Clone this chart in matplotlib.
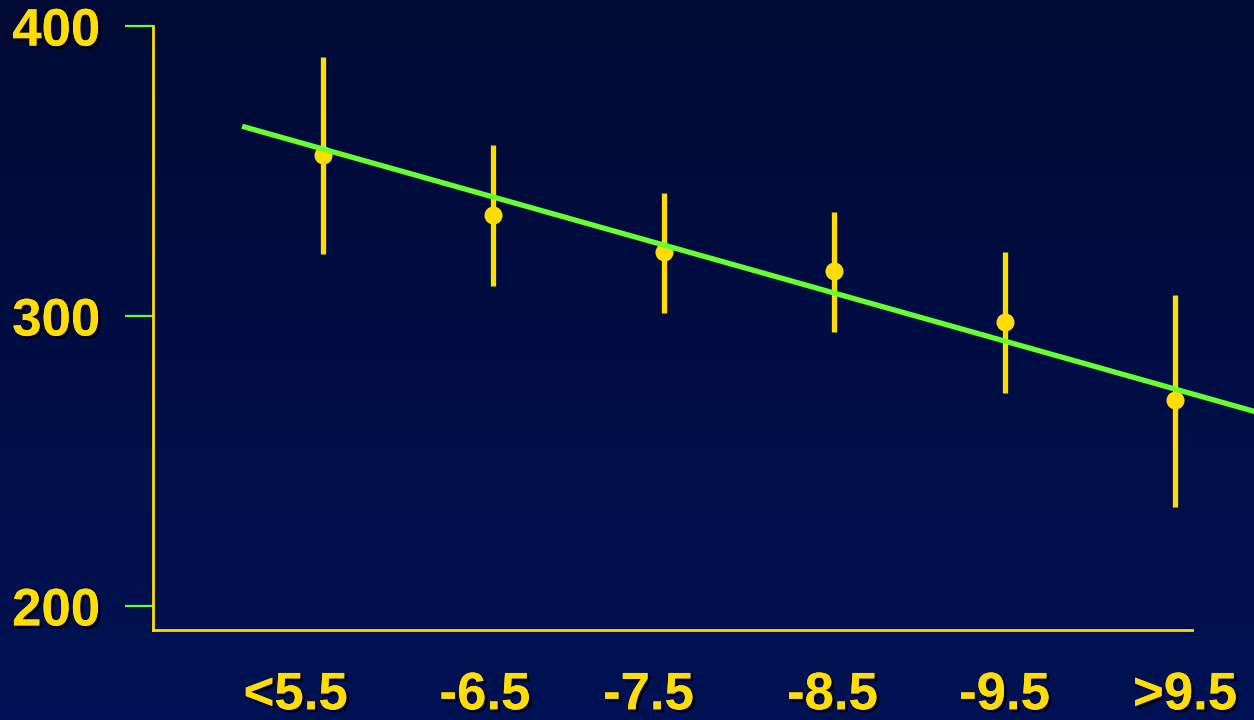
import numpy as np
import matplotlib
matplotlib.use("Agg")
import matplotlib.pyplot as plt
import matplotlib.patheffects as pe
from matplotlib.colors import LinearSegmentedColormap

# group means with their upper/lower limits
groups = ["<5.5", "-6.5", "-7.5", "-8.5", "-9.5", ">9.5"]
means = [355.5, 334.8, 322.1, 315.5, 297.9, 271.0]
upper = [389.3, 359.0, 342.4, 335.9, 322.1, 307.2]
lower = [321.4, 310.3, 301.0, 294.5, 273.4, 234.1]

# regression line end points
trend_x = [-0.46, 5.46]
trend_y = [365.2, 267.2]

# where the group labels sit along the x axis
label_pos = [-0.16, 0.95, 1.91, 2.99, 4.0, 5.06]
yticks = [200, 300, 400]

YELLOW = "#FFDD00"
GREEN = "#66FF33"

fig = plt.figure(figsize=(12.54, 7.2), dpi=100)

# dark blue gradient backdrop
bg = fig.add_axes([0, 0, 1, 1])
grad = np.linspace(0, 1, 256).reshape(-1, 1)
cmap = LinearSegmentedColormap.from_list("bg", ["#000a34", "#001254"])
bg.imshow(grad, aspect="auto", cmap=cmap, extent=[0, 1, 0, 1])
bg.set_axis_off()

W, H = 1254, 720
ax = fig.add_axes([153 / W, (H - 630) / H, 1 - 153 / W, 630 / H])
ax.patch.set_alpha(0)

x = np.arange(len(groups))
ax.vlines(x, lower, upper, color=YELLOW, lw=3.8, zorder=3)
ax.plot(x, means, "o", color=YELLOW, ms=12, zorder=4)
ax.plot(trend_x, trend_y, color=GREEN, lw=3.8, zorder=5, clip_on=True)

ax.set_xlim(-0.998, 5.464)
ax.set_ylim(191.7, 409.0)

for s in ["top", "right"]:
    ax.spines[s].set_visible(False)
for s in ["left", "bottom"]:
    ax.spines[s].set_color(YELLOW)
    ax.spines[s].set_linewidth(2)
ax.spines["left"].set_bounds(191.7, 400)
ax.spines["bottom"].set_bounds(-0.998, 5.10)

shadow = [pe.withSimplePatchShadow(offset=(2, -2), shadow_rgbFace="black", alpha=0.9), pe.Normal()]
font = dict(family="Liberation Sans", weight="bold", size=38, color=YELLOW)

ax.set_yticks(yticks)
ax.set_yticklabels([str(t) for t in yticks], **font)
ax.tick_params(axis="y", direction="out", length=20, width=1.6, color=GREEN, pad=18)

ax.set_xticks(label_pos)
ax.set_xticklabels(groups, **font)
ax.tick_params(axis="x", length=0, pad=29)

for lab in ax.get_xticklabels() + ax.get_yticklabels():
    lab.set_path_effects(shadow)

fig.savefig("out.png", dpi=100)
